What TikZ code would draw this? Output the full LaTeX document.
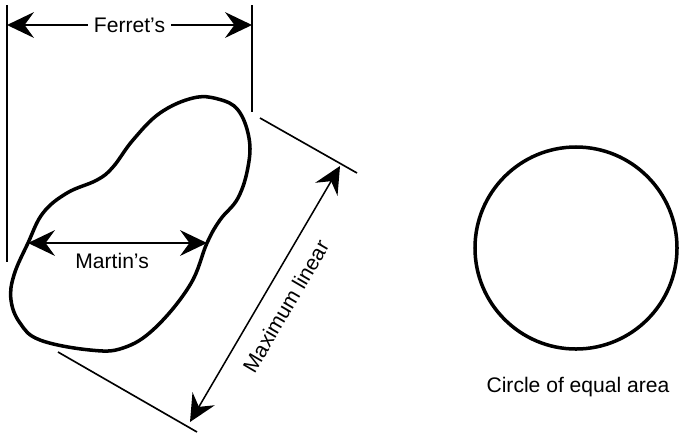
\documentclass[tikz,border=0pt]{standalone}
\usepackage{fontspec}
\setmainfont{Liberation Sans}
\usetikzlibrary{arrows.meta,positioning,calc}

\begin{document}
\begin{tikzpicture}[x=0.03cm, y=-0.03cm, font=\fontsize{18}{21}\selectfont,
    >={Stealth[length=23pt,width=22pt,inset=8pt]},
    outline/.style={line width=3pt},
    guide/.style={line width=1.4pt},
    dimline/.style={line width=1.3pt, <->}]
        \useasboundingbox (0,0) rectangle (679,434);

        % particle outline
        \draw[outline] plot[smooth cycle, tension=0.65] coordinates {
            (193,98) (160,113) (133,140) (113,167) (97,180) (67,193) (43,213)
            (28,243) (14,275) (11,300) (20,323) (40,340) (90,350) (123,348)
            (155,328) (190,285) (207,243) (220,220) (238,198)
            (248,167) (249,138) (238,110) (218,99)};

        % Ferret's diameter
        \draw[guide] (7,5) -- (7,262);
        \draw[guide] (252,5) -- (252,112);
        \coordinate (ferret-l) at (7,25);
        \coordinate (ferret-r) at (252,25);
        \draw[dimline] (ferret-l) -- node[fill=white, inner sep=5pt] (ferret) {Ferret's} (ferret-r);

        % Martin's diameter
        \coordinate (martin-l) at (28,243);
        \coordinate (martin-r) at (207,243);
        \draw[dimline] (martin-l) -- (martin-r);
        \node[below=5pt of $(martin-l)!0.47!(martin-r)$] (martin) {Martin's};

        % maximum linear dimension
        \draw[guide] (260,118) -- (357,173);
        \draw[guide] (58,352) -- (197,432);
        \coordinate (maxlin-lo) at (190,422);
        \coordinate (maxlin-hi) at (340,166);
        \draw[dimline] (maxlin-lo) -- node[sloped, midway, below=10pt] (maxlin) {Maximum linear} (maxlin-hi);

        % circle of equal area
        \node[circle, draw, line width=3pt, minimum size=6.06cm, inner sep=0pt] (circ) at (576,248) {};
        \node (circ-label) at (578,387) {Circle of equal area};
      \end{tikzpicture}
\end{document}
